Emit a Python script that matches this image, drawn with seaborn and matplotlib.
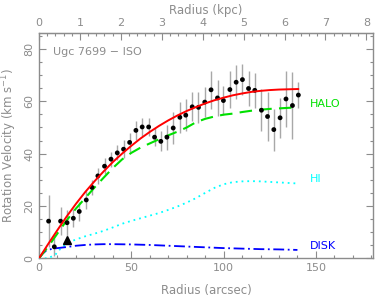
import numpy as np
import pandas as pd
import matplotlib
matplotlib.use("Agg")
import matplotlib.pyplot as plt
import seaborn as sns

sns.set_style("ticks")
plt.rcParams['font.family'] = ['DejaVu Sans']

# observed rotation curve (arcsec, km/s, error)
radius = [5.2, 8.3, 11.7, 15.2, 18.6, 21.8, 25.6, 28.7, 31.9, 35.5, 39.0, 42.4,
          45.8, 49.1, 52.5, 55.9, 59.4, 62.6, 66.0, 69.3, 72.7, 76.3, 79.5, 83.0,
          86.4, 89.8, 93.2, 96.7, 99.9, 103.4, 106.8, 110.2, 113.5, 116.9, 120.5,
          123.8, 127.2, 130.6, 133.8, 137.3, 140.5]
vrot = [14.2, 4.4, 14.2, 13.6, 15.3, 17.9, 22.3, 27.1, 31.5, 35.2, 37.9, 40.3,
        41.7, 44.3, 48.9, 50.2, 50.2, 46.3, 44.7, 46.3, 49.8, 53.9, 54.7, 57.9,
        57.7, 59.7, 64.4, 61.3, 60.3, 64.5, 67.3, 68.3, 64.9, 64.2, 56.6,
        54.2, 49.2, 53.7, 60.9, 58.4, 62.4]
verr = [9.9, 3.5, 5.4, 5.0, 3.5, 3.5, 3.5, 3.0, 3.0, 3.0, 2.9, 2.9,
        3.5, 3.5, 3.5, 3.5, 3.4, 3.5, 3.8, 4.8, 6.0, 6.0, 6.0, 5.5,
        6.0, 5.7, 7.3, 7.0, 5.7, 7.0, 6.4, 6.0, 6.7, 6.7, 8.0,
        9.5, 8.0, 7.6, 10.8, 12.7, 4.8]

# model curves
r_total = [0, 5, 10, 15, 20, 25, 30, 35, 40, 45, 50, 55, 60, 65, 70, 75, 80, 85,
           90, 95, 100, 105, 110, 115, 120, 125, 130, 135, 140.5]
v_total = [0, 5.5, 10.8, 16.0, 20.8, 25.3, 29.4, 33.2, 36.8, 40.0, 43.0, 45.8,
           48.3, 50.6, 52.7, 54.6, 56.3, 57.8, 59.2, 60.4, 61.4, 62.3, 63.0,
           63.6, 64.0, 64.3, 64.5, 64.6, 64.7]
v_halo = [0, 4.5, 9.5, 14.5, 19.0, 23.0, 27.0, 30.8, 34.5, 37.8, 40.3, 42.3,
          43.9, 45.5, 47.0, 48.4, 50.0, 52.0, 53.3, 54.2, 54.9, 55.3, 55.9,
          56.4, 56.8, 57.1, 57.3, 57.5, 57.7]
r_hi = [0, 5, 9, 12, 16, 20, 25, 30, 35, 40, 45, 50, 55, 60, 65, 70, 75, 80, 85,
        90, 95, 100, 105, 110, 115, 120, 125, 130, 135, 140]
v_hi = [0, 0, 1.5, 4.0, 6.0, 7.2, 8.4, 9.4, 10.5, 11.8, 13.2, 14.3, 15.3, 16.3,
        17.3, 18.5, 19.8, 21.3, 23.0, 25.0, 26.9, 28.3, 29.1, 29.4, 29.5, 29.4,
        29.2, 29.0, 28.8, 28.6]
r_disk = [0, 2, 4, 7, 10, 15, 20, 25, 30, 35, 40, 50, 60, 70, 80, 90, 100, 110,
          120, 130, 140]
v_disk = [0, 1.8, 3.0, 3.6, 3.9, 4.3, 4.8, 5.1, 5.3, 5.4, 5.4, 5.3, 5.1, 4.8,
          4.5, 4.2, 3.9, 3.7, 3.5, 3.4, 3.2]

marker_r, marker_v = [15.2], [6.9]
arcsec_per_kpc = 22.17

gray = "#8c8c8c"
obs = pd.DataFrame({"r": radius, "v": vrot, "e": verr})
models = pd.DataFrame({"r": r_total, "total": v_total, "halo": v_halo})

fig = plt.figure(figsize=(3.75, 3.0), dpi=100)
ax = fig.add_axes([0.104, 0.139, 0.891, 0.75])

ax.errorbar(obs["r"], obs["v"], yerr=obs["e"], fmt="none", ecolor="#a8a8a8",
            elinewidth=1.0, capsize=0, zorder=2)
sns.scatterplot(data=obs, x="r", y="v", ax=ax, color="black", s=12,
                edgecolor="none", zorder=4)
sns.lineplot(x=r_hi, y=v_hi, ax=ax, color="#00ffff", lw=1.3,
             linestyle=(0, (1, 2.2)), zorder=3)
sns.lineplot(x=r_disk, y=v_disk, ax=ax, color="#0000ff", lw=1.3,
             linestyle=(0, (6, 2, 1, 2)), zorder=3)
sns.lineplot(data=models, x="r", y="halo", ax=ax, color="#00e000", lw=1.5,
             linestyle=(0, (6, 3.5)), zorder=3)
sns.lineplot(data=models, x="r", y="total", ax=ax, color="#ff0000", lw=1.4,
             zorder=5)
ax.plot(marker_r, marker_v, marker="^", color="black", ms=6, ls="none", zorder=6)

ax.text(147, 58.9, "HALO", color="#00e000", fontsize=8, va="center")
ax.text(147, 30.3, "HI", color="#00ffff", fontsize=8, va="center")
ax.text(147, 4.7, "DISK", color="#0000ff", fontsize=8, va="center")
ax.text(7.5, 78.7, "Ugc 7699 \u2212 ISO", color=gray, fontsize=8, va="center")

ax.set_xlim(0, 181)
ax.set_ylim(0, 86)
ax.set_xticks([0, 50, 100, 150])
ax.set_xticks(np.arange(0, 181, 10), minor=True)
ax.set_yticks([0, 20, 40, 60, 80])
ax.set_yticks(np.arange(0, 86, 5), minor=True)
ax.set_xlabel("Radius (arcsec)", color=gray, fontsize=8.5, labelpad=8)
ax.set_ylabel("Rotation Velocity (km s$^{-1}$)", color=gray, fontsize=8.5, labelpad=4)
ax.tick_params(which="both", direction="in", colors=gray, labelcolor=gray,
               labelsize=8, right=True, width=0.8)
ax.tick_params(which="major", length=5)
ax.tick_params(which="minor", length=2.5)
for lab in ax.get_yticklabels():
    lab.set_rotation(90)
    lab.set_va("center")
for sp in ax.spines.values():
    sp.set_color(gray)
    sp.set_linewidth(1.0)

top = ax.secondary_xaxis("top", functions=(lambda x: x / arcsec_per_kpc,
                                           lambda k: k * arcsec_per_kpc))
top.set_xticks(range(0, 9))
top.set_xticks(np.arange(0, 8.2, 0.2), minor=True)
top.tick_params(which="both", direction="in", colors=gray, labelcolor=gray,
                labelsize=8, width=0.8)
top.tick_params(which="major", length=5)
top.tick_params(which="minor", length=2.5)
top.spines["top"].set_color(gray)
top.set_xlabel("Radius (kpc)", color=gray, fontsize=8.5, labelpad=3)

fig.savefig("out.png", dpi=100)
